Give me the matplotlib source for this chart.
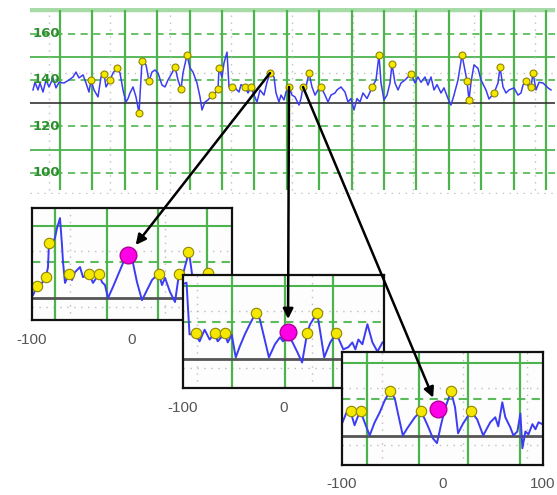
import matplotlib.pyplot as plt
from matplotlib.patches import ConnectionPatch

# --- main strip (sample position, rate) ---
main_x = [33, 35, 38, 40, 43, 46, 49, 53, 56, 59, 64, 69, 73, 76, 79, 83, 86, 89, 91, 94,
          98, 101, 104, 106, 110, 113, 117, 120, 123, 126, 128, 130, 133, 136, 139, 142, 146, 149, 152, 155,
          158, 162, 165, 168, 172, 175, 178, 181, 183, 187, 190, 193, 197, 200, 202, 205, 208, 212, 215, 218,
          219, 222, 224, 227, 229, 232, 235, 239, 241, 245, 248, 251, 254, 257, 260, 264, 267, 270, 274, 276,
          279, 281, 284, 286, 289, 292, 295, 299, 301, 303, 306, 309, 312, 315, 318, 321, 325, 328, 331, 335,
          337, 341, 345, 348, 351, 354, 357, 360, 363, 367, 370, 372, 376, 379, 381, 384, 387, 390, 392, 395,
          398, 401, 405, 408, 411, 415, 418, 421, 425, 428, 431, 434, 437, 441, 444, 448, 451, 454, 458, 462,
          465, 467, 469, 471, 474, 478, 481, 486, 489, 494, 498, 500, 503, 506, 509, 514, 518, 521, 523, 526,
          529, 531, 533, 536, 539, 543, 548, 551]
main_y = [135.7, 139, 135.7, 138.7, 134.8, 140, 137, 140.9, 136.6, 139, 138.7, 140, 141.3, 143.4, 140.9, 142.2, 138.7, 134.8, 140, 135.7,
          132.7, 141.3, 142.6, 137, 140, 143, 145.3, 143, 135.7, 130.5, 132, 134.4, 137, 132.7, 125.8, 148.2, 146.5, 139.6, 143.4, 144.3,
          143, 137.8, 137, 140, 143, 145.6, 140, 136.1, 143, 150.8, 145.2, 143.4, 138.7, 132.7, 127.1, 130.5, 131.4, 133.5, 134.4, 136.1,
          145.2, 141.3, 147.3, 152, 137, 137, 136.6, 134.8, 138, 137, 134.4, 137, 133.5, 130.5, 135.7, 133.5, 139, 143, 141.3, 134.4,
          130.5, 133.5, 131.4, 134.8, 137, 133.5, 132.7, 129.2, 132, 137, 137, 143, 137, 133.5, 135.7, 137, 133.5, 130.5, 133.5, 134.4,
          135.7, 137, 134.8, 130.5, 132, 127.1, 132, 130.5, 134.4, 132, 134.8, 137, 140, 150.8, 138.7, 131.4, 133.5, 138.7, 146.9, 138.7,
          135.7, 138.7, 140, 141.3, 142.6, 138.7, 141.3, 139, 141.3, 137.8, 141.3, 135.7, 138, 134.4, 136.6, 132, 129.2, 133.5, 140, 150.8,
          144, 139.6, 131.4, 139, 146.5, 145, 140, 135.7, 131.8, 134.4, 138.7, 145.6, 137, 134.4, 135.7, 136.6, 133.5, 134.4, 137.8, 139.6,
          136.6, 137, 143, 135.7, 139, 138.7, 136.6, 135.7]
main_beat_x = [91, 104, 110, 117, 139, 142, 149, 175, 181, 187, 212, 218, 219, 232, 245, 251, 270,
               289, 303, 309, 321, 372, 379, 392, 411, 462, 467, 469, 494, 500, 526, 531, 533]
main_beat_y = [140, 142.6, 140, 145.3, 125.8, 148.2, 139.6, 145.6, 136.1, 150.8, 133.5, 136.1, 145.2, 137, 137, 137, 143,
               137, 137, 143, 137, 137, 150.8, 146.9, 142.6, 150.8, 139.6, 131.4, 134.4, 145.6, 139.6, 137, 143]
main_ticks = [160, 140, 120, 100]

# --- zoomed windows ---
win1_x = [-99, -95, -90, -86, -84, -83, -79, -77, -75, -72, -70, -69, -67, -63, -60, -57, -52, -49, -43, -39,
          -33, -30, -27, -24, -19, -14, -9, -4, 1, 5, 10, 15, 20, 25, 27, 30, 33, 38, 43, 47,
          51, 55, 56, 58, 60, 64, 68, 73, 76, 80, 86, 93, 99]
win1_y = [130.8, 133.3, 134.2, 135.8, 138.6, 145.3, 145.6, 146.7, 149.4, 152.2, 144.7, 140, 134.2, 136.7, 135, 137.2, 138.6, 135.8, 136.7, 134.2,
          136.7, 134.4, 133.6, 130, 133.1, 136.4, 139.7, 141.5, 139.7, 134.4, 129.4, 132.2, 135, 136.4, 136.7, 133.6, 135.6, 131.7, 128.9, 136.7,
          136.7, 140.8, 142.8, 140.8, 136.7, 134, 133, 135, 137, 134, 133, 135, 134]
win1_beat_x = [-95, -86, -83, -63, -43, -33, 27, 47, 56, 76]
win1_beat_y = [133.3, 135.8, 145.3, 136.7, 136.7, 136.7, 136.7, 136.7, 142.8, 137]
win1_hit = (-4, 142)

win2_x = [-100, -96.5, -93.5, -87.5, -83.5, -78.5, -73.5, -68.5, -65.5, -58.5, -55.5, -51.5, -47.5, -43.5, -38.5, -33.5, -27.5, -23.5, -19.5, -14.5,
          -8.5, -3.5, -0.5, 4.5, 8.5, 13.5, 18.5, 23.5, 26.5, 33.5, 36.5, 40.5, 46.5, 52.5, 56.5, 59.5, 64.5, 68.5, 71.5, 74.5,
          78.5, 83.5, 88.5, 93.5, 98.5]
win2_y = [150.5, 150.9, 136.7, 137, 134.8, 138, 135.3, 137, 134.8, 137, 134.5, 136.6, 130.4, 133.4, 136.7, 139.5, 142.7, 140.8, 136.2, 130.4,
          134, 135.9, 134.8, 136, 134.8, 132, 129, 137, 139.5, 142.5, 137.5, 130.4, 134.5, 137, 134.5, 132.6, 133.2, 134.5, 132.6, 135.3,
          134, 139.5, 134.5, 132, 134.5]
win2_beat_x = [-87.5, -68.5, -58.5, -27.5, 23.5, 33.5, 52.5]
win2_beat_y = [137, 137, 137, 142.7, 137, 142.5, 137]
win2_hit = (4.5, 137.5)

win3_x = [-99.5, -95.5, -91.5, -87.5, -84.5, -81.5, -77.5, -72.5, -67.5, -62.5, -57.5, -52.5, -47.5, -44.5, -39.5, -34.5, -27.5, -21.5, -17.5, -13.5,
          -9.5, -5.5, -1.5, 2.5, 8.5, 12.5, 15.5, 20.5, 28.5, 34.5, 40.5, 47.5, 52.5, 55.5, 59.5, 62.5, 67.5, 70.5, 74.5, 77.5,
          79.5, 82.5, 85.5, 89.5, 92.5, 95.5, 99.5]
win3_y = [133.7, 136.4, 136.7, 132.9, 135.1, 136.7, 133.7, 130.1, 133.7, 136.4, 139.7, 142.2, 140.3, 136.4, 130.1, 132.3, 135.1, 136.7, 134.5, 132,
          129.3, 128, 133, 137.5, 142.2, 137.8, 130.7, 133.4, 136.7, 134.5, 130.1, 133.7, 135.1, 132.6, 139.2, 135.1, 132.3, 130.1, 131.2, 136.1,
          126.6, 131.2, 130.4, 133.2, 131.8, 133.7, 133.2]
win3_beat_x = [-91.5, -81.5, -52.5, -21.5, 8.5, 28.5]
win3_beat_y = [136.7, 136.7, 142.2, 136.7, 142.2, 136.7]
win3_hit = (-4.5, 137.3)

win_ticks = [-100, 0, 100]
# main-strip beats that point into each window
picked = [(270, 143), (289, 137), (303, 137)]

W, H = 557, 495
fig = plt.figure(figsize=(W / 100, H / 100), dpi=100)


def box(l, t, r, b):
    return [l / W, 1 - b / H, (r - l) / W, (b - t) / H]


green = '#4db34d'
dgreen = '#2f8f2f'
blue = '#3c3cf2'
yel = '#f4e800'
yel_edge = '#8f8600'

# main strip
ax = fig.add_axes(box(30, 8, 555, 194))
ax.set_xlim(30, 555)
ax.set_ylim(90.9, 171.0)
ax.axis('off')
ax.hlines(170, 30, 555, color='#a6daa6', lw=3.2)
ax.hlines([150, 110], 30, 555, color=green, lw=1.3)
ax.hlines([160, 140, 120, 100], 30, 555, color='#5cbc5c', lw=1.3, linestyles=(0, (4, 3)))
ax.hlines([143, 91.4], 30, 555, color='#c0c0c0', lw=1, linestyles=(0, (1, 4)))
ax.vlines([49 + 60.7 * k for k in range(9)], 92.5, 170, color='#c0c0c0', lw=1, linestyles=(0, (1, 4)))
ax.vlines([60 + 32.4 * k for k in range(16)], 92.5, 170, color=green, lw=1.6)
ax.hlines(130, 30, 555, color='#333333', lw=1.2)
ax.plot(main_x, main_y, color=blue, lw=1.1)
ax.plot(main_beat_x, main_beat_y, 'o', ms=5, mfc=yel, mec=yel_edge, mew=0.8)
for v in main_ticks:
    ax.text(33, v, str(v), ha='left', va='center', color=dgreen, fontsize=9.5, fontweight='bold')

# zoomed windows
wins = [
    (box(32, 208, 232, 320), (123.9, 155), win1_x, win1_y, win1_beat_x, win1_beat_y, win1_hit,
     [-77, -25, 26, 75], [-62, 33]),
    (box(183, 275, 384, 388), (122, 153), win2_x, win2_y, win2_beat_x, win2_beat_y, win2_hit,
     [-51, 1, 49], [-86, 28]),
    (box(342, 352, 543, 465), (122, 153), win3_x, win3_y, win3_beat_x, win3_beat_y, win3_hit,
     [-75, -23, 25, 77], [-60, 20, 84]),
]
insets = []
for i, (pos, ylim, x, y, bx, by, hit, vgrid, vdot) in enumerate(wins):
    a = fig.add_axes(pos, zorder=2 + i)
    a.set_facecolor('#fdfdfd')
    a.set_xlim(-100, 100)
    a.set_ylim(*ylim)
    a.axhline(150, color=green, lw=1.5)
    a.axhline(140, color='#5cbc5c', lw=1.5, ls=(0, (4, 3)))
    for v in [143, 127.5]:
        a.axhline(v, color='#bdbdbd', lw=1, ls=(0, (1, 4)))
    for v in vdot:
        a.axvline(v, color='#bdbdbd', lw=1, ls=(0, (1, 4)))
    for v in vgrid:
        a.axvline(v, color=green, lw=1.6)
    a.axhline(130, color='#555555', lw=2)
    a.plot(x, y, color=blue, lw=1.4)
    a.plot(bx, by, 'o', ms=7.5, mfc=yel, mec=yel_edge, mew=0.8)
    a.plot(*hit, 'o', ms=12, mfc='#ff00e6', mec='#b00098', mew=1)
    a.set_yticks([])
    a.set_xticks(win_ticks)
    a.set_xticklabels([str(t) for t in win_ticks], color='#555555', fontsize=11,
                      family='Liberation Sans')
    a.tick_params(axis='x', length=0, pad=9)
    for s in a.spines.values():
        s.set_color('#111111')
        s.set_linewidth(1.6)
    insets.append((a, hit))

for (a, hit), src in zip(insets, picked):
    cp = ConnectionPatch(xyA=src, coordsA='data', axesA=ax, xyB=hit, coordsB='data', axesB=a,
                         arrowstyle='-|>', mutation_scale=15, lw=1.8, color='black',
                         shrinkA=0, shrinkB=9, zorder=10)
    fig.add_artist(cp)

fig.savefig('out.png', dpi=100)
